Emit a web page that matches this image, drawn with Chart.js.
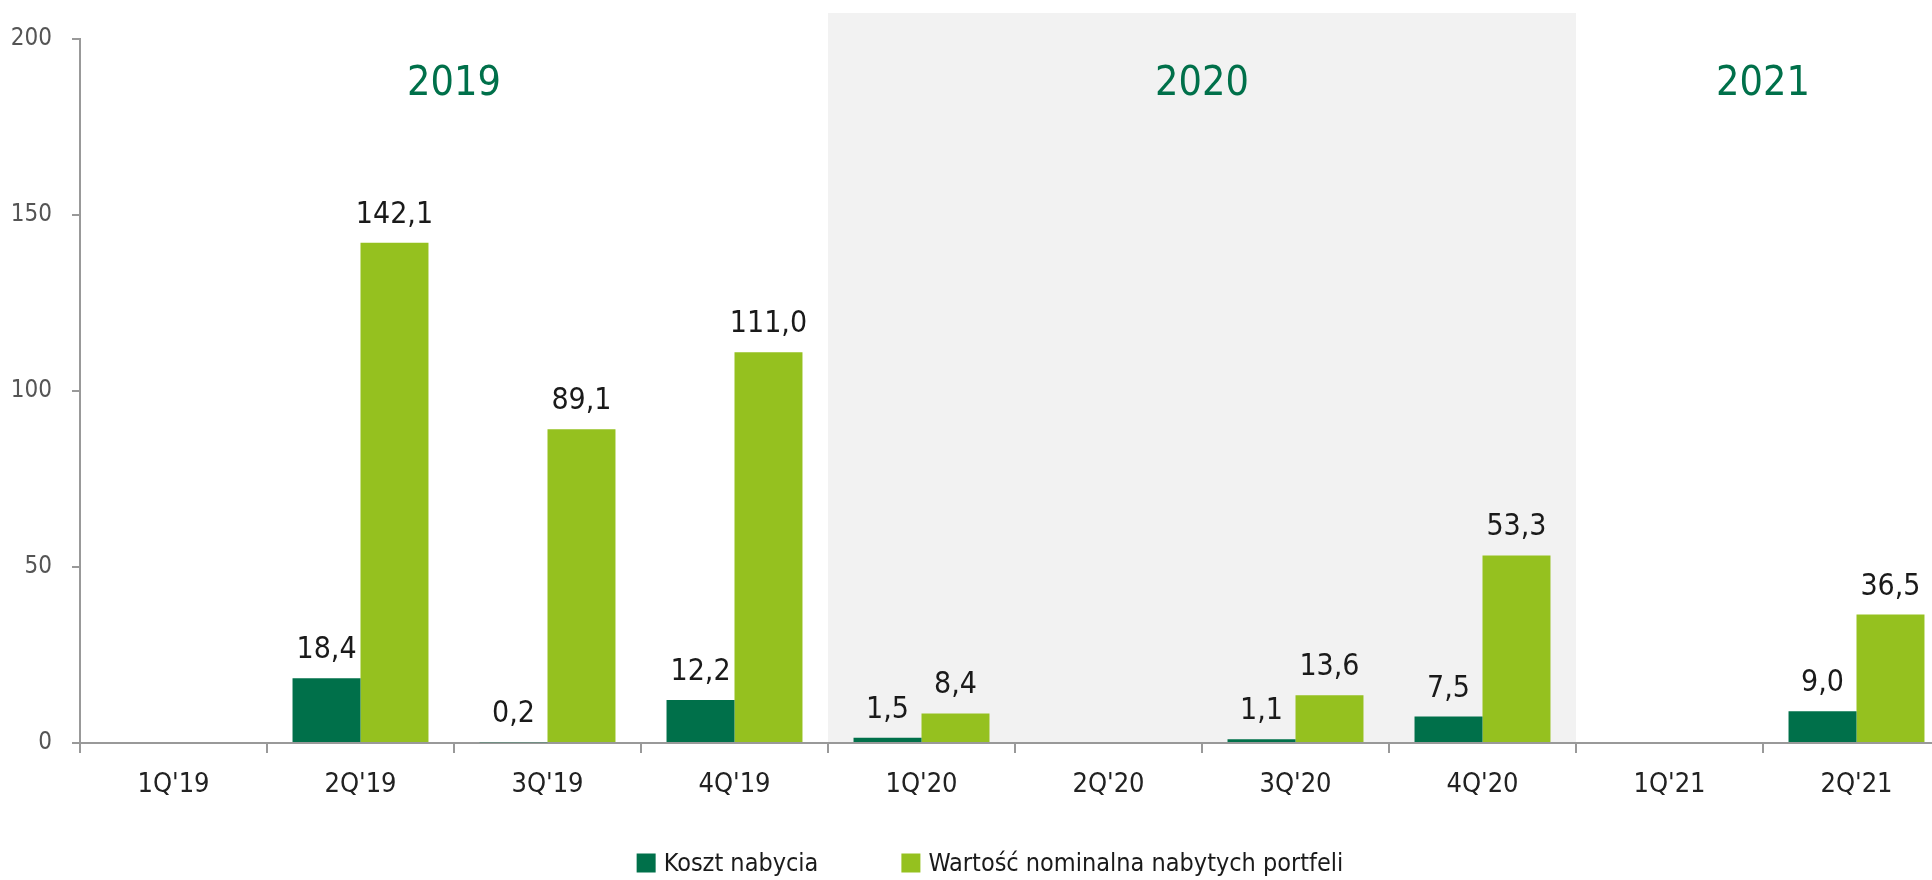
<!DOCTYPE html>
<html>
<head>
<meta charset="utf-8">
<script src="https://cdn.jsdelivr.net/npm/chart.js@4.4.1/dist/chart.umd.min.js"></script>
<style>
  html, body { margin: 0; padding: 0; background: #fff; overflow: hidden; }
  #frame { width: 1932px; height: 880px; overflow: hidden; position: relative; }
  #wrap { width: 1960px; height: 880px; position: absolute; left: 0; top: 0; }
</style>
</head>
<body>
<div id="frame"><div id="wrap"><canvas id="myChart"></canvas></div></div>
<script>
const categories = ["1Q'19", "2Q'19", "3Q'19", "4Q'19", "1Q'20", "2Q'20", "3Q'20", "4Q'20", "1Q'21", "2Q'21"];
const kosztNabycia = [null, 18.4, 0.2, 12.2, 1.5, null, 1.1, 7.5, null, 9.0];
const wartoscNominalna = [null, 142.1, 89.1, 111.0, 8.4, null, 13.6, 53.3, null, 36.5];
const seriesNames = ["Koszt nabycia", "Wartość nominalna nabytych portfeli"];
const yearLabels = ["2019", "2020", "2021"];
const yearFirst = [0, 4, 8];
const yearLast = [3, 7, 9];
const shadedYear = 1;
const yTicks = [0, 50, 100, 150, 200];

const FONT = "'DejaVu Sans Condensed', 'Liberation Sans Narrow', sans-serif";
const darkGreen = '#00704A';
const lightGreen = '#95C11F';

// left/right pixel edges of a category on the x scale
const catEdges = (xs, i) => {
  let half = (xs.getPixelForValue(1) - xs.getPixelForValue(0)) / 2;
  let c = xs.getPixelForValue(i);
  return [c - half, c + half];
};

const decorPlugin = {
  id: 'decor',
  beforeDraw(chart) {
    const ctx = chart.ctx;
    const xs = chart.scales.x;
    const ys = chart.scales.y;
    let left = catEdges(xs, yearFirst[shadedYear])[0];
    let right = catEdges(xs, yearLast[shadedYear])[1];
    ctx.save();
    ctx.fillStyle = '#F2F2F2';
    ctx.fillRect(left, 13, right - left, ys.getPixelForValue(0) - 13);
    ctx.restore();
  },
  afterDraw(chart) {
    const ctx = chart.ctx;
    const xs = chart.scales.x;
    ctx.save();

    // year headers
    ctx.font = '41px ' + FONT;
    ctx.fillStyle = darkGreen;
    ctx.textAlign = 'center';
    ctx.textBaseline = 'alphabetic';
    for (const index in yearLabels) {
      let l = catEdges(xs, yearFirst[index])[0];
      let r = catEdges(xs, yearLast[index])[1];
      ctx.fillText(yearLabels[index], (l + r) / 2, 95);
    }

    // value labels
    ctx.font = '30px ' + FONT;
    ctx.fillStyle = '#1a1a1a';
    chart.data.datasets.forEach((ds, di) => {
      const meta = chart.getDatasetMeta(di);
      meta.data.forEach((bar, i) => {
        let v = ds.data[i];
        if (v === null || v === undefined) return;
        ctx.fillText(v.toFixed(1).replace('.', ','), bar.x, bar.y - 20);
      });
    });

    // legend
    ctx.font = '25px ' + FONT;
    ctx.textAlign = 'left';
    ctx.textBaseline = 'middle';
    const box = 19, gapText = 8, gapItem = 83;
    let widths = chart.data.datasets.map(ds => box + gapText + ctx.measureText(ds.label).width);
    let total = widths.reduce((a, b) => a + b, 0) + gapItem * (widths.length - 1);
    let x = 990 - total / 2;
    let cy = 863;
    chart.data.datasets.forEach((ds, di) => {
      ctx.fillStyle = ds.backgroundColor;
      ctx.fillRect(x, cy - box / 2, box, box);
      ctx.fillStyle = '#1a1a1a';
      ctx.fillText(ds.label, x + box + gapText, cy + 1);
      x += widths[di] + gapItem;
    });
    ctx.restore();
  }
};

const ctx = document.getElementById('myChart');
new Chart(ctx, {
  type: 'bar',
  data: {
    labels: categories,
    datasets: [
      { label: seriesNames[0], data: kosztNabycia, backgroundColor: darkGreen },
      { label: seriesNames[1], data: wartoscNominalna, backgroundColor: lightGreen }
    ]
  },
  options: {
    responsive: true,
    maintainAspectRatio: false,
    animation: false,
    categoryPercentage: 0.727,
    barPercentage: 1.0,
    layout: { padding: { top: 39, right: 10, bottom: 77, left: 0 } },
    plugins: {
      legend: { display: false },
      tooltip: { enabled: false }
    },
    scales: {
      x: {
        grid: { drawOnChartArea: false, offset: true, tickLength: 10, color: '#999', lineWidth: 2 },
        border: { color: '#999', width: 2 },
        ticks: { color: '#222', font: { family: FONT, size: 27 }, padding: 16, maxRotation: 0 },
        afterFit: (s) => { s.height = 60; }
      },
      y: {
        min: 0,
        max: 200,
        afterBuildTicks: (s) => { s.ticks = yTicks.map(v => ({ value: v })); },
        grid: { drawOnChartArea: false, tickLength: 8, color: '#999', lineWidth: 2 },
        border: { color: '#999', width: 2 },
        ticks: { color: '#555', font: { family: FONT, size: 24 }, padding: 20 },
        afterFit: (s) => { s.width = 80; }
      }
    }
  },
  plugins: [decorPlugin]
});
</script>
</body>
</html>
